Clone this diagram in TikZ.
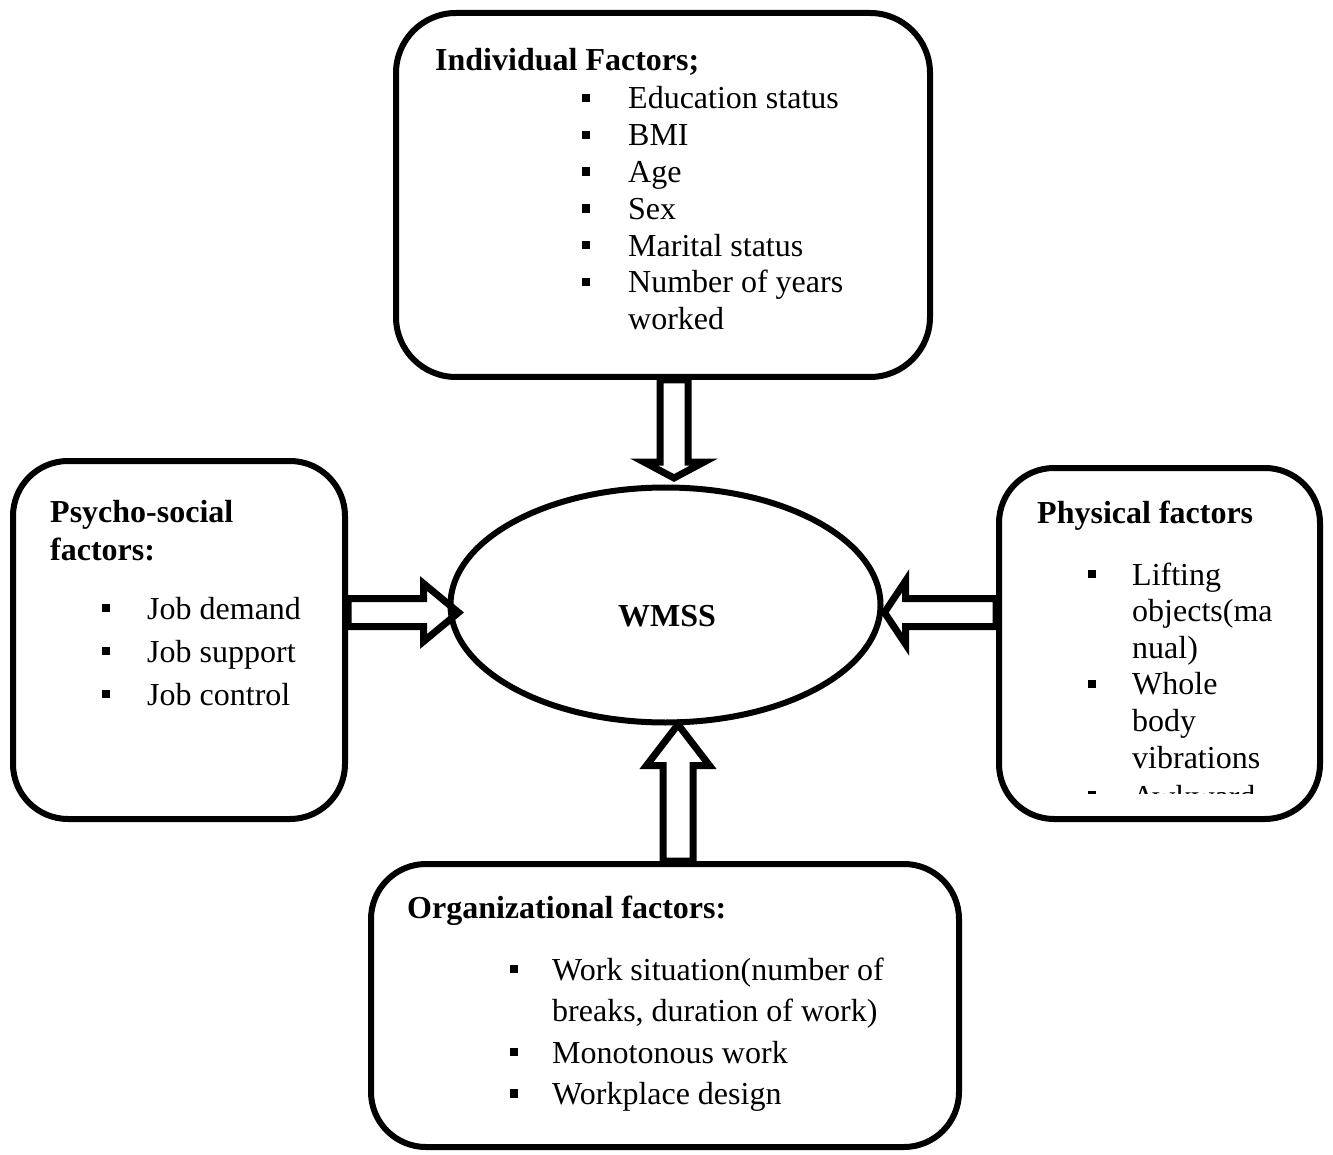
\documentclass[tikz,border=0pt]{standalone}
\usepackage{fontspec}
\setmainfont{Liberation Serif}
\usetikzlibrary{shapes.geometric,calc,backgrounds}
\tikzset{
  box/.style={draw, line width=6pt, rounded corners=55pt, inner sep=0pt},
  txt/.style={anchor=base west, inner sep=0pt, font=\fontsize{32}{38}\selectfont},
  ttl/.style={txt, font=\fontsize{32}{38}\selectfont\bfseries},
  bul/.style={fill=black, inner sep=0pt, minimum size=8.5pt},
  barrow/.style={draw, fill=white, line width=7pt, miter limit=10},
}
\newcommand\itm[5]{\node[bul] (#1b) at (#2,#4-11) {}; \node[txt] (#1) at (#3,#4) {#5};}
\newcommand\blockarr[6]{\begin{scope}[shift={#1},rotate=#2]
  \draw[barrow] (0,-#4)--(#3,-#4)--(#3,-#5)--({#3+#6},0)--(#3,#5)--(#3,#4)--(0,#4)--cycle;
\end{scope}}
\begin{document}
\begin{tikzpicture}[x=1pt,y=-1pt]
\useasboundingbox (0,0) rectangle (1333,1155);
% boxes
\node[box, rounded corners=60pt, minimum width=534pt, minimum height=364pt] (indiv) at (663,195) {};
\node[box, minimum width=332pt, minimum height=358pt] (psy) at (179,640) {};
\node[box, minimum width=321pt, minimum height=351pt] (phys) at (1159.5,643.5) {};
\node[box, minimum width=588pt, minimum height=283pt] (org) at (665,1005.5) {};
\node[draw, ellipse, line width=6pt, inner sep=0pt, minimum width=430pt, minimum height=235pt] (wmss) at (665.5,605) {};
\node[ttl, anchor=base] (wmsslbl) at (667,626) {WMSS};
% arrows
\begin{pgfonlayer}{background}
\blockarr{($(indiv.south)+(11,0)$)}{-90}{82}{14}{30}{16}
\blockarr{($(psy.east)+(0,-27.5)$)}{0}{75.5}{14}{29}{35}
\blockarr{($(phys.west)+(0,-31)$)}{180}{90.5}{14}{31.5}{21}
\blockarr{($(org.north)+(13,0)$)}{90}{95.5}{15}{31.5}{41}
\end{pgfonlayer}
% individual
\node[ttl] (indivT) at (435,71) {Individual Factors;};
\itm{i1}{586}{628}{109}{Education status}
\itm{i2}{586}{628}{145.8}{BMI}
\itm{i3}{586}{628}{182.6}{Age}
\itm{i4}{586}{628}{219.4}{Sex}
\itm{i5}{586}{628}{256.2}{Marital status}
\itm{i6}{586}{628}{293}{Number of years}
\node[txt] (i7) at (628,329.8) {worked};
% psycho-social
\node[ttl] (psyT1) at (50,522) {Psycho-social};
\node[ttl] (psyT2) at (50,560) {factors:};
\itm{p1}{106}{147}{619}{Job demand}
\itm{p2}{106}{147}{662}{Job support}
\itm{p3}{106}{147}{705}{Job control}
% physical
\node[ttl] (physT) at (1037,523) {Physical factors};
\itm{f1}{1092}{1132}{585}{Lifting}
\node[txt] (f2) at (1132,621.6) {objects(ma};
\node[txt] (f3) at (1132,658.2) {nual)};
\itm{f4}{1092}{1132}{694.8}{Whole}
\node[txt] (f5) at (1132,731.4) {body};
\node[txt] (f6) at (1132,768) {vibrations};
\begin{scope}
\clip (1000,700) rectangle (1318,793);
\node[bul] (f7b) at (1092,795) {};
\node[txt] (f7) at (1132,807) {Awkward};
\end{scope}
% organizational
\node[ttl] (orgT) at (407,918) {Organizational factors:};
\itm{o1}{514}{552}{980}{Work situation(number of}
\node[txt] (o2) at (552,1021.5) {breaks, duration of work)};
\itm{o3}{514}{552}{1063}{Monotonous work}
\itm{o4}{514}{552}{1104.5}{Workplace design}
\end{tikzpicture}
\end{document}
